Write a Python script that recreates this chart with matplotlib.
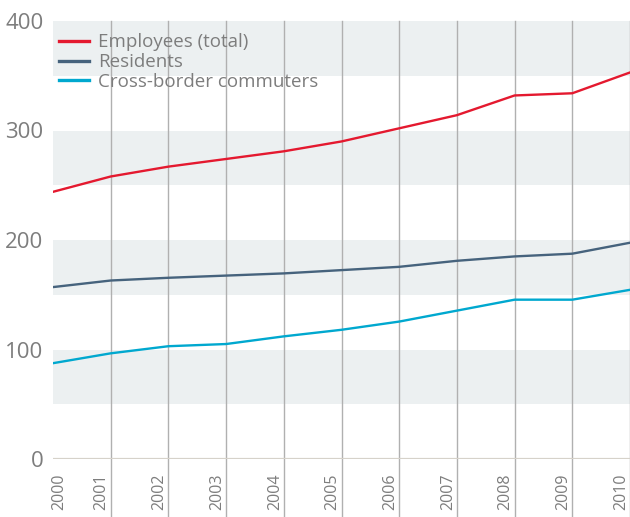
import matplotlib.pyplot as plt

plt.rcParams['font.family'] = ['Open Sans', 'DejaVu Sans']

years = [2000, 2001, 2002, 2003, 2004, 2005, 2006, 2007, 2008, 2009, 2010]
employees = [244, 258, 267, 274, 281, 290, 302, 314, 332, 334, 353]
residents = [157, 163, 165.5, 167.5, 169.5, 172.5, 175.5, 181, 185, 187.5, 197.5]
commuters = [87.5, 96.5, 103, 105, 112, 118, 125.5, 135.5, 145.5, 145.5, 154.5]
bands = [(50, 100), (150, 200), (250, 300), (350, 400)]
yticks = [0, 100, 200, 300, 400]

red = '#e4192f'
slate = '#46637d'
cyan = '#00a8cf'
txt = '#7d7d7d'

fig = plt.figure(figsize=(6.3, 5.17), dpi=100)
ax = fig.add_axes([53 / 630, 1 - 459 / 517, 1 - 53 / 630, 438 / 517])

for lo, hi in bands:
    ax.axhspan(lo, hi, color='#ecf0f1', lw=0, zorder=0)

# vertical grid lines running down past the axis
for yr in years[1:]:
    ax.axvline(yr, ymin=-58 / 438, ymax=1, color='#b0b0b0', lw=1, clip_on=False, zorder=1)
ax.axhline(0, color='#d6d2ca', lw=1.6, zorder=2)

ax.plot(years, employees, color=red, lw=1.7, label='Employees (total)', zorder=3)
ax.plot(years, residents, color=slate, lw=1.7, label='Residents', zorder=3)
ax.plot(years, commuters, color=cyan, lw=1.7, label='Cross-border commuters', zorder=3)

ax.set_xlim(2000, 2010)
ax.set_ylim(0, 400)
for s in ax.spines.values():
    s.set_visible(False)
ax.set_yticks(yticks)
ax.set_yticklabels([str(v) for v in yticks], fontsize=16, color=txt)
ax.tick_params(axis='y', length=0, pad=7)
ax.set_xticks([])

for i, yr in enumerate(years):
    dx = 6 if i == 0 else -9
    ax.annotate(str(yr), (yr, 0), xytext=(dx, -14), textcoords='offset pixels',
                rotation=90, ha='center', va='top', fontsize=11.5, color=txt,
                annotation_clip=False)

leg = ax.legend(loc='upper left', bbox_to_anchor=(0.0, 0.985), frameon=False,
                fontsize=13.5, handlelength=1.6, handletextpad=0.5, labelspacing=0.1,
                borderaxespad=0.1, borderpad=0.2, labelcolor=txt)
for h in leg.get_lines():
    h.set_linewidth(2.4)

fig.savefig('out.png', dpi=100)
